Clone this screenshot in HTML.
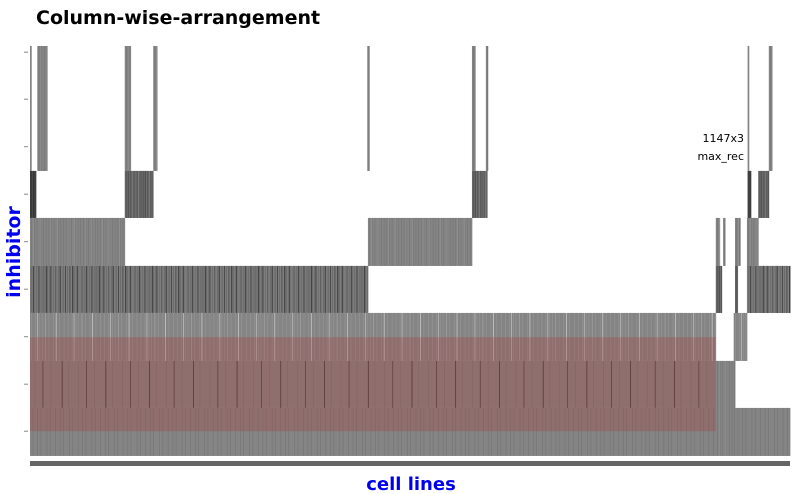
<!DOCTYPE html>
<html><head><meta charset="utf-8"><style>
html,body{margin:0;padding:0;background:#fff;width:800px;height:494px;overflow:hidden;font-family:"DejaVu Sans",sans-serif}
</style></head><body>
<svg id="chart" width="800" height="494" xmlns="http://www.w3.org/2000/svg">
<text x="36" y="24" font-family="DejaVu Sans, sans-serif" font-weight="bold" font-size="19" fill="#000">Column-wise-arrangement</text>
<text transform="translate(20,252) rotate(-90)" text-anchor="middle" font-family="DejaVu Sans, sans-serif" font-weight="bold" font-size="19" fill="#0000ee">inhibitor</text>
<text x="411" y="490" text-anchor="middle" font-family="DejaVu Sans, sans-serif" font-weight="bold" font-size="18" fill="#0000ee">cell lines</text>
<text x="744" y="142" text-anchor="end" font-family="DejaVu Sans, sans-serif" font-size="11" fill="#000">1147x3</text>
<text x="744" y="160" text-anchor="end" font-family="DejaVu Sans, sans-serif" font-size="11" fill="#000">max_rec</text>
<g id="cells"></g>
<g id="ticks"></g>
<rect x="30" y="461" width="760" height="5" fill="#666"/>
</svg>
<script>
// column count and vertical level edges (row units)
const nCols = 1147;
const levels = [0, 2.63, 3.62, 4.63, 5.62, 6.63, 7.62, 8.63];
const yTicks = [0.13, 1.12, 2.12, 3.12, 4.12, 5.12, 6.12, 7.12, 8.11];
// blocks: [colStart, colEnd]
const blockCols = [
 [0,2],[0,9],[11,26],[0,143],[143,152],[143,186],[186,192],[0,510],
 [0,1035],[0,1035],[0,1035],[509,512],[510,667],[667,690],[667,672],[688,691],
 [1035,1041],[1046,1049],[1035,1044],[1064,1072],[1064,1068],[1062,1082],[1035,1064],[1064,1147],
 [1082,1099],[1082,1147],[1083,1085],[1083,1088],[1099,1115],[1115,1120]
];
const blockRows = [
 [0,2.63],[2.63,3.62],[0,2.63],[3.62,4.63],[0,2.63],[2.63,3.62],[0,2.63],[4.63,5.62],
 [5.62,6.63],[6.63,7.62],[7.62,8.63],[0,2.63],[3.62,4.63],[2.63,3.62],[0,2.63],[0,2.63],
 [3.62,4.63],[3.62,4.63],[4.63,5.62],[3.62,4.63],[4.63,5.62],[5.62,6.63],[6.63,8.63],[7.62,8.63],
 [3.62,4.63],[4.63,5.62],[0,2.63],[2.63,3.62],[2.63,3.62],[0,2.63]
];
const patterns = {
 g: "88788978887888897888788878",
 d: "3435334344353433",
 s: "66566476566856657665866656",
 h: "7867736877687378678576872767867377868757",
 l: "88988888988c88988898888a888898888889888d888898888889888",
 m: "888888878888888888838888888888878888888888888888288888888878888888",
 p: "8888788888878888788888888788887888"
};
const blockPat = ["g","d","g","g","g","s","g","h","l","m","p","g","g","s","g","g",
 "g","g","s","g","s","l","g","p","g","h","g","d","s","g"];
const overlayCols = [0, 1035];
const overlayRows = [6.13, 8.11];

const x = c => 30 + c * 760 / nCols;
const y = v => 46 + v * 47.5;
const NS = "http://www.w3.org/2000/svg";
const cells = document.getElementById("cells");
blockCols.forEach((bc, bi) => {
  const pat = patterns[blockPat[bi]];
  const r = blockRows[bi];
  const g = document.createElementNS(NS, "g");
  
  
  for (let c = bc[0]; c < bc[1]; c++) {
    const k = parseInt(pat[(c - bc[0]) % pat.length], 16);
    const v = Math.min(235, k * 16 + 5);
    const rect = document.createElementNS(NS, "rect");
    
    
    rect.setAttribute("x", x(c));
    rect.setAttribute("width", x(c + 1) - x(c) + 0.4);
    rect.setAttribute("y", y(r[0]));
    rect.setAttribute("height", y(r[1]) - y(r[0]));
    rect.setAttribute("fill", `rgb(${v},${v},${v})`);
    g.appendChild(rect);
  }
  cells.appendChild(g);
});
const ov = document.createElementNS(NS, "rect");


ov.setAttribute("x", x(overlayCols[0]));
ov.setAttribute("width", x(overlayCols[1]) - x(overlayCols[0]));
ov.setAttribute("y", y(overlayRows[0]));
ov.setAttribute("height", y(overlayRows[1]) - y(overlayRows[0]));
ov.setAttribute("fill", "rgba(170,60,60,0.3)");
cells.appendChild(ov);
const ticks = document.getElementById("ticks");
yTicks.forEach(t => {
  const l = document.createElementNS(NS, "line");
  
  
  l.setAttribute("x1", 24); l.setAttribute("x2", 28);
  l.setAttribute("y1", y(t)); l.setAttribute("y2", y(t));
  l.setAttribute("stroke", "#888"); l.setAttribute("stroke-width", 1);
  ticks.appendChild(l);
});
</script>
</body></html>
